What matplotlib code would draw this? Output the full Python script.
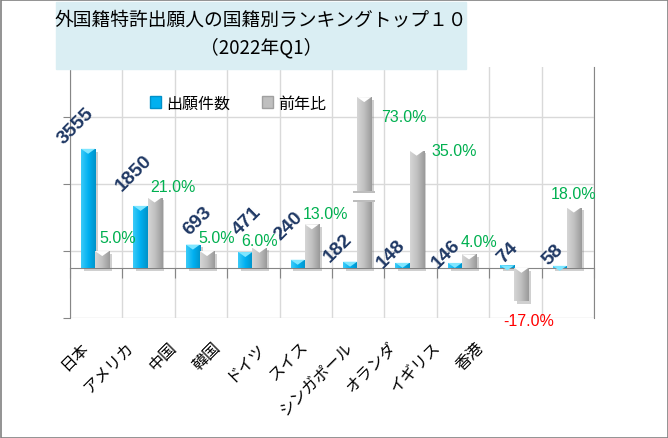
import numpy as np
import matplotlib.pyplot as plt
import matplotlib.patheffects as pe
from matplotlib.patches import Rectangle, Polygon, Patch
from matplotlib.colors import LinearSegmentedColormap

plt.rcParams['font.family'] = ['Noto Sans CJK JP', 'DejaVu Sans']

countries = ['日本', 'アメリカ', '中国', '韓国', 'ドイツ', 'スイス',
             'シンガポール', 'オランダ', 'イギリス', '香港']
filings = [3555, 1850, 693, 471, 240, 182, 148, 146, 74, 58]
yoy = [5.0, 21.0, 5.0, 6.0, 13.0, 73.0, 35.0, 4.0, -17.0, 18.0]

title1 = '外国籍特許出願人の国籍別ランキングトップ１０'
title2 = '（2022年Q1）'

# label nudges in pixels (dx, dy), like the hand-placed labels in the original
cnt_off = [(-12, 23), (-7, 33), (5, 24), (2, 32), (-9, 34),
           (-12, 14), (-11, 10), (-9, 10), (0, 13), (-7, 12)]
pct_off = [(15, 14), (18, 11), (10, 14), (0, 7), (14, 11),
           (40, -19), (38, 0), (10, 13), (7, -19), (0, 14)]

W, H = 668, 439
BLUE = '#00B0F0'
GRAY = '#BFBFBF'
AXC = '#868686'
GRID = '#D9D9D9'

fig = plt.figure(figsize=(W / 100, H / 100), dpi=100)

ax = fig.add_axes([70 / W, 1 - 319 / H, 524 / W, 251 / H])
ax2 = ax.twinx()
ax.set_xlim(-0.5, 9.5)
ax.set_ylim(-1500, 6000)
ax2.set_ylim(-15, 60)

ax.set_axisbelow(True)
ax.set_yticks([-1500, 500, 2500, 4500])
ax.set_yticklabels([])
ax.set_xticks(np.arange(-0.5, 10, 1))
ax.set_xticklabels([])
ax.grid(True, color=GRID, lw=1)
ax.tick_params(axis='y', length=5, color=AXC)
ax.tick_params(axis='x', length=7, color=AXC)
ax.spines['bottom'].set_position(('data', 0))
for s in ['bottom', 'left']:
    ax.spines[s].set_color(AXC)
ax.spines['top'].set_visible(False)
ax.spines['right'].set_visible(False)
ax2.set_yticks([])
for s in ['top', 'left', 'bottom']:
    ax2.spines[s].set_visible(False)
ax2.spines['right'].set_color(AXC)

xs = np.arange(len(countries))
w = 0.27
shadow = [pe.SimplePatchShadow(offset=(2, -2), shadow_rgbFace='#7a7a7a', alpha=0.35),
          pe.Normal()]

# the tall and the negative bar are cut like in the original chart
yoy_shown = np.clip(yoy, -10, 51)

b1 = ax.bar(xs - w / 2 - 0.02, filings, w, color=BLUE, zorder=3,
            path_effects=shadow)
b2 = ax2.bar(xs + w / 2 - 0.02, yoy_shown, w, color=GRAY, zorder=3,
             path_effects=shadow)


def px_y(axis, n):
    lo, hi = axis.get_ylim()
    return n * (hi - lo) / (axis.get_position().height * H)


def shade(axis, bars, stops, top_col):
    cmap = LinearSegmentedColormap.from_list('s', stops)
    grad = np.linspace(0, 1, 64).reshape(1, -1)
    d = px_y(axis, 5)
    for b in bars:
        x0, bw = b.get_x(), b.get_width()
        y0, y1 = sorted([b.get_y(), b.get_y() + b.get_height()])
        im = axis.imshow(grad, cmap=cmap, extent=[x0, x0 + bw, y0, y1],
                         aspect='auto', origin='lower', zorder=3.1,
                         interpolation='bilinear')
        im.set_clip_path(b)
        axis.add_patch(Polygon([(x0, y1), (x0 + bw, y1), (x0 + bw / 2, y1 - d)],
                               closed=True, color=top_col, zorder=3.2, lw=0))


shade(ax, b1, ['#3CCBF8', '#00B0F0', '#0092C8'], '#7FE6FF')
shade(ax2, b2, ['#D6D6D6', '#BFBFBF', '#999999'], 'white')
ax.set_xlim(-0.5, 9.5)
ax.set_ylim(-1500, 6000)
ax2.set_xlim(-0.5, 9.5)
ax2.set_ylim(-15, 60)

# axis-break mark on the cut bar
for i, v in enumerate(yoy):
    if v > yoy_shown[i]:
        b = b2[i]
        x0, bw = b.get_x() - 0.08, b.get_width() + 0.16
        yb = 0.42 * yoy_shown[i]
        t = px_y(ax2, 2)
        g = px_y(ax2, 3.5)
        ax2.add_patch(Rectangle((x0, yb - g - t), bw, 2 * (g + t),
                                color='#BDBDBD', zorder=4, lw=0))
        ax2.add_patch(Rectangle((x0, yb - g), bw, 2 * g,
                                color='white', zorder=4.1, lw=0))

for i, b in enumerate(b1):
    ax2.annotate(str(filings[i]), xy=(b.get_x() + b.get_width() / 2, filings[i]),
                 xycoords=ax.transData, xytext=cnt_off[i],
                 textcoords='offset pixels', rotation=45, ha='center',
                 va='center', fontsize=14, color='#1F3864',
                 family='Liberation Sans', weight='bold', zorder=6)

for i, b in enumerate(b2):
    v = yoy[i]
    ax2.annotate(f'{v:.1f}%', xy=(b.get_x() + b.get_width() / 2, yoy_shown[i]),
                 xytext=pct_off[i], textcoords='offset pixels', ha='center',
                 va='center', fontsize=11.5, family='Liberation Sans',
                 color='#00B050' if v >= 0 else '#FF0000', zorder=6)

# category labels sit on their own, a bit tighter than the bars
lab = fig.add_axes([64.5 / W, 1 - 345 / H, 439 / W, 0.001])
lab.set_xlim(-0.5, 9.5)
lab.set_xticks(xs)
lab.set_xticklabels(countries, rotation=45, ha='right', va='center',
                    rotation_mode='anchor', fontsize=11.5)
lab.tick_params(length=0, pad=0)
lab.set_yticks([])
for s in lab.spines.values():
    s.set_visible(False)
lab.patch.set_visible(False)

handles = [Patch(facecolor=BLUE, edgecolor='#0090C8'),
           Patch(facecolor=GRAY, edgecolor='#A0A0A0')]
fig.legend(handles, ['出願件数', '前年比'], loc='center',
           bbox_to_anchor=(238 / W, 1 - 104 / H), ncol=2, frameon=False,
           fontsize=11.5, handlelength=0.7, handleheight=0.7,
           handletextpad=0.3, columnspacing=2.0)

fig.add_artist(Rectangle((56 / W, 1 - 70 / H), 410 / W, 67 / H,
                         transform=fig.transFigure, color='#DAEEF3', zorder=4))
fig.text(261 / W, 1 - 20 / H, title1, ha='center', va='center',
         fontsize=13.5, zorder=5)
fig.text(261 / W, 1 - 48 / H, title2, ha='center', va='center',
         fontsize=13.5, zorder=5)
fig.add_artist(Rectangle((0.5 / W, 0.5 / H), 667 / W, 438 / H,
                         transform=fig.transFigure, fill=False,
                         edgecolor='#808080', lw=1.2, zorder=6))

fig.savefig('out.png', dpi=100)
